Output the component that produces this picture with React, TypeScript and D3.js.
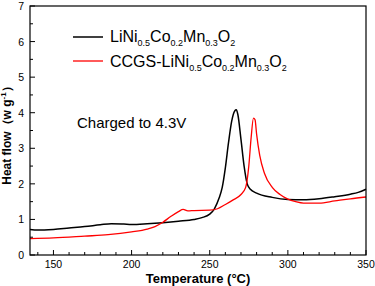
import * as d3 from "d3";

// temperatures (°C) and heat flow (W/g)
const tempBare = [135, 140, 150, 160, 170, 180, 187, 195, 200, 210, 220, 230, 240, 245, 250, 253, 256, 258, 260, 262, 264, 266, 267, 268, 270, 272, 274, 276, 280, 290, 300, 310, 320, 330, 340, 345, 350];
const flowBare = [0.72, 0.7, 0.72, 0.76, 0.8, 0.85, 0.88, 0.87, 0.86, 0.88, 0.91, 0.95, 1.0, 1.05, 1.15, 1.3, 1.6, 1.9, 2.45, 3.15, 3.75, 4.05, 4.08, 3.95, 3.25, 2.5, 2.0, 1.85, 1.74, 1.62, 1.56, 1.55, 1.58, 1.64, 1.71, 1.76, 1.85];

const tempCoated = [135, 150, 170, 185, 200, 210, 215, 220, 225, 230, 233, 236, 240, 250, 255, 260, 265, 270, 273, 275, 276.5, 278, 279, 280, 282, 285, 290, 295, 300, 305, 310, 320, 330, 340, 350];
const flowCoated = [0.46, 0.48, 0.53, 0.57, 0.65, 0.73, 0.8, 0.92, 1.08, 1.22, 1.28, 1.24, 1.25, 1.26, 1.3, 1.42, 1.55, 1.7, 1.9, 2.5, 3.3, 3.85, 3.8, 3.4, 2.8, 2.3, 1.9, 1.7, 1.57, 1.5, 1.46, 1.46, 1.52, 1.58, 1.63];

const xTicks = [150, 200, 250, 300, 350];
const yTicks = [0, 1, 2, 3, 4, 5, 6, 7];

export default function App() {
    const width = 375;
    const height = 286;
    const left = 30;
    const right = 366;
    const top = 6;
    const bottom = 255;

    const x = d3.scaleLinear().domain([135, 350]).range([left, right]);
    const y = d3.scaleLinear().domain([0, 7]).range([bottom, top]);

    const line = d3.line<[number, number]>()
        .x((d) => x(d[0]))
        .y((d) => y(d[1]))
        .curve(d3.curveMonotoneX);

    const bare = line(tempBare.map((t, i) => [t, flowBare[i]] as [number, number])) || "";
    const coated = line(tempCoated.map((t, i) => [t, flowCoated[i]] as [number, number])) || "";

    const minorX = d3.range(140, 351, 10);
    const minorY = d3.range(0, 7.01, 0.5);
    const font = "'Liberation Sans', Arial, sans-serif";

    // chemical formula with subscripts
    const formula = (prefix: string) => (
        <>
            {prefix}LiNi<tspan fontSize="9" dy="4">0.5</tspan>
            <tspan dy="-4">Co</tspan><tspan fontSize="9" dy="4">0.2</tspan>
            <tspan dy="-4">Mn</tspan><tspan fontSize="9" dy="4">0.3</tspan>
            <tspan dy="-4">O</tspan><tspan fontSize="9" dy="4">2</tspan>
        </>
    );

    return (
        <svg width={width} height={height} style={{ position: "absolute", left: 0, top: 0, background: "#fff" }} fontFamily={font}>
            {/* curves */}
            <path d={bare} fill="none" stroke="#000" strokeWidth={1.5} />
            <path d={coated} fill="none" stroke="#ff0000" strokeWidth={1.3} />

            {/* frame */}
            <rect x={left} y={top} width={right - left} height={bottom - top} fill="none" stroke="#000" strokeWidth={1.2} />

            {/* x ticks (inward) */}
            {minorX.map((v) => (
                <line key={"mx" + v} x1={x(v)} x2={x(v)} y1={bottom} y2={bottom - (v % 50 === 0 ? 5 : 3)} stroke="#000" />
            ))}
            {xTicks.map((v) => (
                <text key={"tx" + v} x={x(v)} y={bottom + 13} textAnchor="middle" fontSize="10.5">{v}</text>
            ))}

            {/* y ticks (inward) */}
            {minorY.map((v) => (
                <line key={"my" + v} x1={left} x2={left + (v % 1 === 0 ? 5 : 3)} y1={y(v)} y2={y(v)} stroke="#000" />
            ))}
            {yTicks.map((v) => (
                <text key={"ty" + v} x={left - 6} y={y(v)} textAnchor="end" dominantBaseline="central" fontSize="10.5">{v}</text>
            ))}

            {/* axis titles */}
            <text x={(left + right) / 2} y={283} textAnchor="middle" fontSize="13" fontWeight="bold">Temperature (°C)</text>
            <text transform={`translate(11, ${(top + bottom) / 2 + 2}) rotate(-90)`} textAnchor="middle" fontSize="12" fontWeight="bold">
                Heat flow（w g<tspan fontSize="8" dy="-5">-1</tspan><tspan dy="5">）</tspan>
            </text>

            {/* legend */}
            <line x1={73} x2={103} y1={37} y2={37} stroke="#000" strokeWidth={1.5} />
            <text x={110} y={42} fontSize="16">{formula("")}</text>
            <line x1={73} x2={103} y1={61} y2={61} stroke="#ff0000" strokeWidth={1.3} />
            <text x={110} y={67} fontSize="16">{formula("CCGS-")}</text>

            <text x={77} y={128} fontSize="15">Charged to 4.3V</text>
        </svg>
    );
}
